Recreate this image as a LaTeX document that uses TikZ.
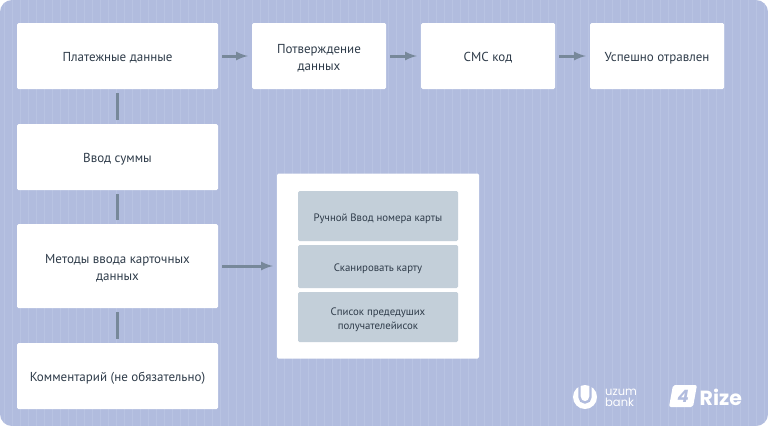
\documentclass[tikz,border=0pt]{standalone}
\usepackage{fontspec}
\setmainfont{PT Sans}
\newfontfamily\logofont{Poppins}
\usetikzlibrary{shapes}
\definecolor{bgblue}{HTML}{B1BCDE}
\definecolor{stripeblue}{HTML}{B8C3E2}
\definecolor{inkgrey}{HTML}{2F3C4A}
\definecolor{cardgrey}{HTML}{C3CFD9}
\definecolor{linkgrey}{HTML}{77889A}

\begin{document}
\begin{tikzpicture} [x=1pt, y=1pt, >=latex, node distance=169pt,
  block/.style={rectangle, fill=white, rounded corners=1.5pt, inner sep=0pt, text=inkgrey, text badly centered, font=\fontsize{13}{17}\selectfont, execute at begin node={\rule[-3pt]{0pt}{16pt}}},
  wide/.style={block, text width=201pt, minimum height=66pt},
  narrow/.style={block, text width=134pt, minimum height=66pt},
  card/.style={block, fill=cardgrey, text width=160pt, font=\fontsize{10.8}{14.5}\selectfont, execute at begin node={\rule[-2.5pt]{0pt}{12pt}}},
  link/.style={draw=linkgrey, line width=3pt, shorten >=4pt, shorten <=4pt},
  logotext/.style={inner sep=0pt, text=white}]
  \useasboundingbox (0,0) rectangle (768,-426);
  % Background
  \begin{scope}
    \clip [rounded corners=12pt] (0,0) rectangle (768,-426);
    \fill [bgblue] (0,0) rectangle (768,-426);
    \foreach \x in {4,12,...,764}
      \draw [stripeblue, line width=0.6pt] (\x,0) -- (\x,-426);
  \end{scope}
  %% Top row
  \node [wide] (pay) at (117.5,-56) {Платежные данные};
  \node [narrow, right of=pay, node distance=201.5pt] (confirm) {Потверждение\\ данных};
  \node [narrow, right of=confirm] (sms) {СМС код};
  \node [narrow, right of=sms] (done) {Успешно отравлен};
  %% Left column
  \node [wide, below of=pay, node distance=101pt] (amount) {Ввод суммы};
  \node [wide, below of=amount, node distance=109pt, minimum height=84pt] (methods) {Методы ввода карточных\\ данных};
  \node [wide, below of=methods, node distance=110pt] (comment) {Комментарий (не обязательно)};
  %% Panel with cards
  \node [block, right of=methods, node distance=260.5pt, text width=202pt, minimum height=185pt] (panel) {};
  \node [card, minimum height=50pt] (manual) at (378,-216) {Ручной Ввод номера карты};
  \node [card, below of=manual, node distance=50.5pt, minimum height=43pt] (scan) {Сканировать карту};
  \node [card, below of=scan, node distance=50.5pt, minimum height=50pt] (list) {Список предедуших\\ получателейисок};
  % Draw edges
  \draw [link, ->] (pay) -- (confirm);
  \draw [link, ->] (confirm) -- (sms);
  \draw [link, ->] (sms) -- (done);
  \draw [link] (pay) -- (amount);
  \draw [link] (amount) -- (methods);
  \draw [link] (methods) -- (comment);
  \draw [link, ->] (methods) -- (panel);
  %% Logos
  \fill [white] (585,-397) circle (12);
  \draw [bgblue, line width=2.4pt] (579.5,-384.5) -- (579.5,-397) arc (180:360:5.5) -- (590.5,-384.5);
  \fill [white] (583.8,-385) rectangle (586.2,-397);
  \node [logotext, anchor=west, font=\logofont\fontsize{11.5}{10}\selectfont] (uzumword) at (605,-392) {uzum};
  \node [logotext, anchor=west, font=\logofont\fontsize{11.5}{10}\selectfont] (bankword) at (605,-402) {bank};
  \fill [white, rounded corners=2pt] (673,-385) -- (697,-385) -- (693,-407) -- (669,-407) -- cycle;
  \node [logotext, text=bgblue, font=\logofont\fontsize{17}{17}\selectfont\bfseries\itshape] (four) at (683,-396) {4};
  \node [logotext, anchor=west, font=\logofont\fontsize{20.5}{20}\selectfont\bfseries] (rize) at (699.5,-397) {Rize};
\end{tikzpicture}
\end{document}
